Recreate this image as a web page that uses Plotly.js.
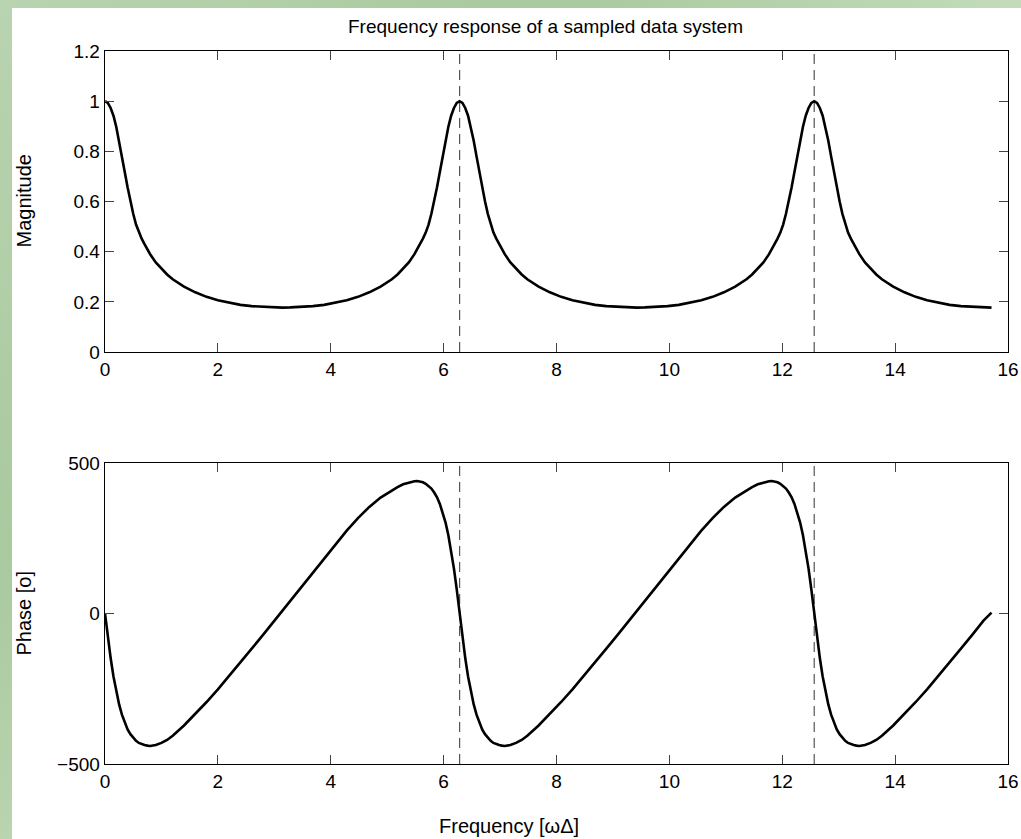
<!DOCTYPE html>
<html>
<head>
<meta charset="utf-8">
<script src="https://cdn.plot.ly/plotly-3.0.1.min.js"></script>
<style>
  html, body { margin: 0; padding: 0; width: 1021px; height: 839px; overflow: hidden;
    background: linear-gradient(135deg, #b9d4b0 0%, #a9c99f 30%, #c3dbb9 55%, #a6c69c 80%, #b7d2ad 100%); }
  #plot { position: absolute; left: 12px; top: 8px; width: 1009px; height: 831px; }
</style>
</head>
<body>
<div id="plot"></div>
<script>
// Frequency samples [ωΔ]
const freq = [
  0, 0.05, 0.1, 0.15, 0.2, 0.25, 0.3, 0.35, 0.4, 0.45, 0.5, 0.55, 0.6, 0.65, 0.7, 0.75, 0.8, 0.9, 1.0, 1.1, 1.2, 1.4, 1.6, 1.8, 2.0, 2.2, 2.4, 2.6, 2.8, 3.0, 3.142,
  3.283, 3.483, 3.683, 3.883, 4.083, 4.283, 4.483, 4.683, 4.883, 5.083, 5.183, 5.283, 5.383, 5.483, 5.533, 5.583, 5.633, 5.683, 5.733, 5.783, 5.833, 5.883, 5.933, 5.983, 6.033, 6.083, 6.133, 6.183, 6.233, 6.283,
  6.333, 6.383, 6.433, 6.483, 6.533, 6.583, 6.633, 6.683, 6.733, 6.783, 6.833, 6.883, 6.933, 6.983, 7.033, 7.083, 7.183, 7.283, 7.383, 7.483, 7.683, 7.883, 8.083, 8.283, 8.483, 8.683, 8.883, 9.083, 9.283, 9.425,
  9.566, 9.766, 9.966, 10.166, 10.366, 10.566, 10.766, 10.966, 11.166, 11.366, 11.466, 11.566, 11.666, 11.766, 11.816, 11.866, 11.916, 11.966, 12.016, 12.066, 12.116, 12.166, 12.216, 12.266, 12.316, 12.366, 12.416, 12.466, 12.516, 12.566,
  12.616, 12.666, 12.716, 12.766, 12.816, 12.866, 12.916, 12.966, 13.016, 13.066, 13.116, 13.166, 13.216, 13.266, 13.316, 13.366, 13.466, 13.566, 13.666, 13.766, 13.966, 14.166, 14.366, 14.566, 14.766, 14.966, 15.166, 15.366, 15.566, 15.708
];

// Magnitude |H|
const magnitude = [
  1.000, 0.993, 0.973, 0.942, 0.897, 0.842, 0.780, 0.718, 0.657, 0.601, 0.551, 0.508, 0.476, 0.452, 0.430, 0.410, 0.390, 0.357, 0.331, 0.309, 0.290, 0.261, 0.238, 0.220, 0.206, 0.196, 0.188, 0.183, 0.180, 0.178, 0.177,
  0.178, 0.180, 0.183, 0.188, 0.196, 0.206, 0.220, 0.238, 0.261, 0.290, 0.309, 0.331, 0.357, 0.390, 0.410, 0.430, 0.452, 0.476, 0.508, 0.551, 0.601, 0.657, 0.718, 0.780, 0.842, 0.897, 0.942, 0.973, 0.993, 1.000,
  0.993, 0.973, 0.942, 0.897, 0.842, 0.780, 0.718, 0.657, 0.601, 0.551, 0.508, 0.476, 0.452, 0.430, 0.410, 0.390, 0.357, 0.331, 0.309, 0.290, 0.261, 0.238, 0.220, 0.206, 0.196, 0.188, 0.183, 0.180, 0.178, 0.177,
  0.178, 0.180, 0.183, 0.188, 0.196, 0.206, 0.220, 0.238, 0.261, 0.290, 0.309, 0.331, 0.357, 0.390, 0.410, 0.430, 0.452, 0.476, 0.508, 0.551, 0.601, 0.657, 0.718, 0.780, 0.842, 0.897, 0.942, 0.973, 0.993, 1.000,
  0.993, 0.973, 0.942, 0.897, 0.842, 0.780, 0.718, 0.657, 0.601, 0.551, 0.508, 0.476, 0.452, 0.430, 0.410, 0.390, 0.357, 0.331, 0.309, 0.290, 0.261, 0.238, 0.220, 0.206, 0.196, 0.188, 0.183, 0.180, 0.178, 0.177
];

// Phase [o]
const phase = [
  0, -78, -148, -209, -260, -302, -336, -363, -385, -401, -414, -423, -430, -434, -437, -439, -440, -437, -430, -420, -406, -372, -334, -294, -252, -208, -163, -117, -71, -24, 6,
  40, 88, 136, 183, 230, 275, 317, 354, 385, 409, 420, 429, 435, 439, 440, 439, 436, 431, 424, 415, 402, 386, 364, 337, 303, 261, 210, 149, 79, 0,
  -78, -148, -209, -260, -302, -336, -363, -385, -401, -414, -423, -430, -434, -437, -439, -440, -437, -430, -420, -406, -372, -334, -294, -252, -208, -163, -117, -71, -24, 6,
  40, 88, 136, 183, 230, 275, 317, 354, 385, 409, 420, 429, 435, 439, 440, 439, 436, 431, 424, 415, 402, 386, 364, 337, 303, 261, 210, 149, 79, 0,
  -78, -148, -209, -260, -302, -336, -363, -385, -401, -414, -423, -430, -434, -437, -439, -440, -437, -430, -420, -406, -372, -334, -294, -252, -208, -163, -117, -71, -24, 3
];

// Dashed reference lines (multiples of 2π)
const markerFreqs = [6.2832, 12.5664];
const magLimits = [0, 1.2];
const phaseLimits = [-500, 500];

// Axis tick labels
const xTicks = [0, 2, 4, 6, 8, 10, 12, 14, 16];
const magTicks = [0, 0.2, 0.4, 0.6, 0.8, 1, 1.2];
const phaseTicks = [-500, 0, 500];
const phaseTickText = ['\u2212500', '0', '500'];

const FONT = '"Liberation Sans", Arial, Helvetica, sans-serif';
const traces = [];
markerFreqs.forEach(f => {
  traces.push({x: [f, f], y: magLimits, xaxis: 'x', yaxis: 'y', mode: 'lines',
    line: {color: '#555555', width: 1.2, dash: '10px,6px'}, hoverinfo: 'skip', showlegend: false});
  traces.push({x: [f, f], y: phaseLimits, xaxis: 'x2', yaxis: 'y2', mode: 'lines',
    line: {color: '#555555', width: 1.2, dash: '10px,6px'}, hoverinfo: 'skip', showlegend: false});
});
traces.push({x: freq, y: magnitude, xaxis: 'x', yaxis: 'y', mode: 'lines',
  line: {color: '#000000', width: 2.6, shape: 'linear'}, showlegend: false});
traces.push({x: freq, y: phase, xaxis: 'x2', yaxis: 'y2', mode: 'lines',
  line: {color: '#000000', width: 2.6, shape: 'linear'}, showlegend: false});

const axisCommon = {
  showgrid: false, zeroline: false, showline: true, mirror: 'ticks',
  linecolor: '#000000', linewidth: 1.3, ticks: 'inside', ticklen: 9, tickwidth: 1, tickcolor: '#444444',
  tickfont: {family: FONT, size: 19, color: '#000000'}
};

const layout = {
  width: 1009, height: 831,
  margin: {l: 93, r: 13, t: 43, b: 75},
  paper_bgcolor: '#ffffff', plot_bgcolor: '#ffffff',
  font: {family: FONT, color: '#000000'},
  showlegend: false,
  xaxis: Object.assign({}, axisCommon, {anchor: 'y', range: [0, 16], tickvals: xTicks, ticktext: xTicks.map(String), domain: [0, 1]}),
  yaxis: Object.assign({}, axisCommon, {anchor: 'x', range: magLimits, tickvals: magTicks, ticktext: magTicks.map(String), domain: [0.5778, 1]}),
  xaxis2: Object.assign({}, axisCommon, {anchor: 'y2', range: [0, 16], tickvals: xTicks, ticktext: xTicks.map(String), domain: [0, 1]}),
  yaxis2: Object.assign({}, axisCommon, {anchor: 'x2', range: phaseLimits, tickvals: phaseTicks, ticktext: phaseTickText, domain: [0, 0.4222]}),
  annotations: [
    {text: 'Frequency response of a sampled data system', xref: 'paper', yref: 'paper', x: 0.488, y: 1, yshift: 12,
     xanchor: 'center', yanchor: 'bottom', showarrow: false, font: {family: FONT, size: 19}},
    {text: 'Magnitude', xref: 'paper', yref: 'paper', x: 0, xshift: -81, y: 0.789, textangle: -90,
     xanchor: 'center', yanchor: 'middle', showarrow: false, font: {family: FONT, size: 20}},
    {text: 'Phase [o]', xref: 'paper', yref: 'paper', x: 0, xshift: -81, y: 0.211, textangle: -90,
     xanchor: 'center', yanchor: 'middle', showarrow: false, font: {family: FONT, size: 20}},
    {text: 'Frequency [\u03c9\u0394]', xref: 'paper', yref: 'paper', x: 0.447, y: 0, yshift: -62,
     xanchor: 'center', yanchor: 'middle', showarrow: false, font: {family: FONT, size: 20}}
  ]
};

Plotly.newPlot('plot', traces, layout, {displayModeBar: false, staticPlot: true});
</script>
</body>
</html>
